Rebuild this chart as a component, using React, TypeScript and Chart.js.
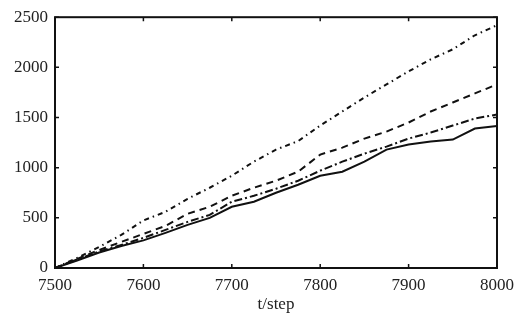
import React, { useEffect, useRef } from "react";
import { Chart, registerables } from "chart.js";

Chart.register(...registerables);

const steps = [7500, 7525, 7550, 7575, 7600, 7625, 7650, 7675, 7700, 7725, 7750, 7775, 7800, 7825, 7850, 7875, 7900, 7925, 7950, 7975, 8000];
const topSeries = [0, 100, 210, 330, 474, 560, 690, 800, 920, 1060, 1180, 1265, 1420, 1560, 1700, 1830, 1960, 2080, 2180, 2320, 2420];
const dashedSeries = [0, 90, 180, 260, 340, 420, 540, 610, 720, 800, 870, 960, 1130, 1200, 1290, 1360, 1450, 1560, 1650, 1740, 1830];
const dashDotSeries = [0, 85, 165, 230, 300, 380, 460, 530, 660, 720, 790, 870, 970, 1060, 1140, 1210, 1290, 1350, 1420, 1490, 1530];
const solidSeries = [0, 75, 155, 220, 275, 350, 430, 500, 610, 660, 750, 830, 920, 960, 1060, 1180, 1230, 1260, 1280, 1390, 1415];

const xTicks = [7500, 7600, 7700, 7800, 7900, 8000];
const yTicks = [0, 500, 1000, 1500, 2000, 2500];
const xTitle = "t/step";

const FONT = "'Liberation Serif', 'Times New Roman', serif";

const framePlugin = {
  id: "frame",
  afterDraw(chart: any) {
    const { ctx, chartArea, scales } = chart;
    const { left, right, top, bottom } = chartArea;
    ctx.save();
    ctx.strokeStyle = "#111";
    ctx.lineWidth = 2;
    ctx.strokeRect(left, top, right - left, bottom - top);
    ctx.lineWidth = 1.5;
    const tl = 4;
    ctx.beginPath();
    for (const v of yTicks) {
      const y = scales.y.getPixelForValue(v);
      ctx.moveTo(left, y);
      ctx.lineTo(left + tl, y);
      ctx.moveTo(right, y);
      ctx.lineTo(right - tl, y);
    }
    for (const v of xTicks) {
      const x = scales.x.getPixelForValue(v);
      ctx.moveTo(x, bottom);
      ctx.lineTo(x, bottom - tl);
      ctx.moveTo(x, top);
      ctx.lineTo(x, top + tl);
    }
    ctx.stroke();
    ctx.restore();
  },
};

function mk(values: number[]) {
  return steps.map((s, i) => ({ x: s, y: values[i] }));
}

export default function App() {
  const ref = useRef<HTMLCanvasElement>(null);
  useEffect(() => {
    const base = {
      borderColor: "#111",
      borderWidth: 2,
      pointRadius: 0,
      fill: false,
      tension: 0,
    };
    const chart = new Chart(ref.current as HTMLCanvasElement, {
      type: "line",
      data: {
        datasets: [
          { ...base, label: "a", data: mk(topSeries), borderDash: [5, 4, 1.5, 4] },
          { ...base, label: "b", data: mk(dashedSeries), borderDash: [7, 5] },
          { ...base, label: "c", data: mk(dashDotSeries), borderDash: [8, 3, 2, 3] },
          { ...base, label: "d", data: mk(solidSeries) },
        ],
      },
      options: {
        animation: false,
        responsive: false,
        maintainAspectRatio: false,
        layout: { padding: { left: 0, top: 15, right: 20, bottom: 0 } },
        plugins: { legend: { display: false }, tooltip: { enabled: false } },
        scales: {
          x: {
            type: "linear",
            min: 7500,
            max: 8000,
            grid: { display: false, drawTicks: false },
            border: { display: false },
            afterBuildTicks: (s: any) => {
              s.ticks = xTicks.map((v) => ({ value: v }));
            },
            afterFit: (s: any) => {
              s.height = 52;
            },
            ticks: {
              color: "#222",
              padding: 7,
              font: { family: FONT, size: 17 },
              callback: (v: any) => String(v),
            },
            title: {
              display: true,
              text: xTitle,
              color: "#222",
              font: { family: FONT, size: 17 },
              padding: { top: 0, bottom: 5 },
            },
          },
          y: {
            type: "linear",
            min: 0,
            max: 2500,
            grid: { display: false, drawTicks: false },
            border: { display: false },
            afterBuildTicks: (s: any) => {
              s.ticks = yTicks.map((v) => ({ value: v }));
            },
            afterFit: (s: any) => {
              s.width = 55;
            },
            ticks: {
              color: "#222",
              padding: 7,
              font: { family: FONT, size: 17 },
              callback: (v: any) => String(v),
            },
          },
        },
      },
      plugins: [framePlugin],
    } as any);
    return () => chart.destroy();
  }, []);
  return (
    <div style={{ position: "fixed", left: 0, top: 0, width: 521, height: 320, background: "#fff" }}>
      <canvas ref={ref} width={521} height={320} style={{ width: 521, height: 320 }} />
    </div>
  );
}
